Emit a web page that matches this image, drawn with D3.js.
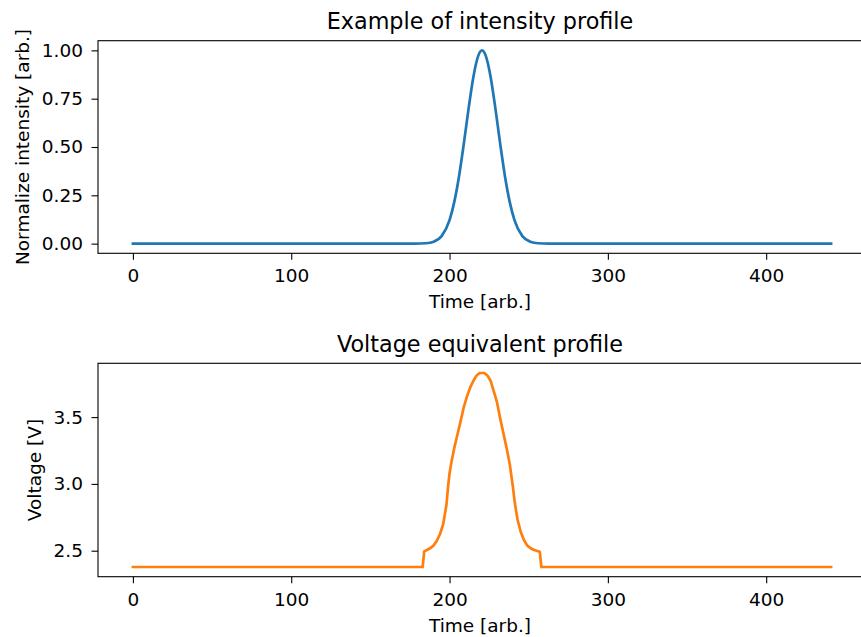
<!DOCTYPE html>
<html>
<head>
<meta charset="utf-8">
<script src="https://cdn.jsdelivr.net/npm/d3@7"></script>
<style>
  body { margin: 0; background: #fff; }
  svg { display: block; font-family: "DejaVu Sans", sans-serif; }
</style>
</head>
<body>
<svg id="chart" width="861" height="637"></svg>
<script>
// Datos
const timeTicks = [0, 100, 200, 300, 400];
const timeMax = 441;

// perfil de intensidad (normalizado)
const intensityTime = [0, 178, 185, 190, 195, 200, 203, 206, 209, 212, 215, 218, 220.5,
    223, 226, 229, 232, 235, 238, 241, 246, 251, 256, 263, 441];
const intensityValue = [0, 0, 0.002, 0.01, 0.039, 0.122, 0.216, 0.349, 0.516, 0.697, 0.86, 0.969, 1,
    0.969, 0.86, 0.697, 0.516, 0.349, 0.216, 0.122, 0.039, 0.01, 0.002, 0, 0];
const intensityTicks = [0, 0.25, 0.5, 0.75, 1.0];

// perfil de voltaje equivalente
const voltageTime = [0, 183, 184, 186, 188, 190, 192, 194, 196, 198, 199, 200, 201, 203, 205, 207,
    209, 211, 213, 215, 217, 219, 222, 224, 226, 228, 230, 232, 234, 236, 238, 240, 241, 242, 243,
    245, 247, 249, 251, 253, 257, 258, 441];
const voltageValue = [2.378, 2.378, 2.495, 2.507, 2.52, 2.54, 2.575, 2.625, 2.70, 2.84, 2.97, 3.08,
    3.15, 3.27, 3.37, 3.47, 3.575, 3.655, 3.72, 3.77, 3.81, 3.83, 3.83, 3.81, 3.77, 3.69, 3.61, 3.49,
    3.38, 3.27, 3.15, 2.98, 2.88, 2.80, 2.73, 2.64, 2.58, 2.54, 2.52, 2.507, 2.492, 2.378, 2.378];
const voltageTicks = [2.5, 3.0, 3.5];

const svg = d3.select("#chart");

const left = 98, right = 866;

function padded(values) {
    // margen de 5% como matplotlib
    let [lo, hi] = d3.extent(values);
    let m = (hi - lo) * 0.05;
    return [lo - m, hi + m];
}

function drawPanel(opts) {
    const g = svg.append("g");

    const x = d3.scaleLinear()
        .domain(padded([0, timeMax]))
        .range([left, right]);
    const y = d3.scaleLinear()
        .domain(padded(opts.values))
        .range([opts.bottom, opts.top]);

    // eje x
    const xAxis = g.append("g")
        .attr("transform", `translate(0,${opts.bottom})`)
        .call(d3.axisBottom(x).tickValues(timeTicks).tickSize(6.5).tickSizeOuter(0).tickPadding(9.5));
    // eje y
    const yAxis = g.append("g")
        .attr("transform", `translate(${left},0)`)
        .call(d3.axisLeft(y).tickValues(opts.ticks).tickFormat(d3.format(opts.fmt))
            .tickSize(6.5).tickSizeOuter(0).tickPadding(8.5));

    [xAxis, yAxis].forEach(a => {
        a.select(".domain").remove();
        a.selectAll("line").attr("stroke", "#000").attr("stroke-width", 1.1);
        a.selectAll("text").attr("fill", "#000").style("font-size", "18.5px")
            .style("font-family", "DejaVu Sans, sans-serif");
    });

    // la curva
    const line = d3.line()
        .x((d, i) => x(opts.times[i]))
        .y(d => y(d))
        .curve(opts.curve);
    g.append("path")
        .datum(opts.values)
        .attr("d", line)
        .attr("fill", "none")
        .attr("stroke", opts.color)
        .attr("stroke-width", 2.7)
        .attr("stroke-linejoin", "round")
        .attr("stroke-linecap", "square");

    // marco
    g.append("rect")
        .attr("x", left).attr("y", opts.top)
        .attr("width", right - left).attr("height", opts.bottom - opts.top)
        .attr("fill", "none").attr("stroke", "#000").attr("stroke-width", 1.1);

    // titulo y etiquetas
    g.append("text")
        .attr("x", (left + right) / 2 - 2).attr("y", opts.top - 11.5)
        .attr("text-anchor", "middle")
        .style("font-size", "22.3px")
        .text(opts.title);
    g.append("text")
        .attr("x", (left + right) / 2 - 2).attr("y", opts.bottom + 55)
        .attr("text-anchor", "middle")
        .style("font-size", "18.5px")
        .text("Time [arb.]");
    g.append("text")
        .attr("transform", `translate(${opts.ylabelX},${(opts.top + opts.bottom) / 2}) rotate(-90)`)
        .attr("text-anchor", "middle")
        .style("font-size", "18.5px")
        .text(opts.ylabel);
}

drawPanel({
    top: 40.7, bottom: 253.3,
    times: intensityTime, values: intensityValue, ticks: intensityTicks, fmt: ".2f",
    color: "#1f77b4", curve: d3.curveMonotoneX,
    title: "Example of intensity profile",
    ylabel: "Normalize intensity [arb.]", ylabelX: 28.5
});

drawPanel({
    top: 363.3, bottom: 576.7,
    times: voltageTime, values: voltageValue, ticks: voltageTicks, fmt: ".1f",
    color: "#ff7f0e", curve: d3.curveLinear,
    title: "Voltage equivalent profile",
    ylabel: "Voltage [V]", ylabelX: 41
});
</script>
</body>
</html>
